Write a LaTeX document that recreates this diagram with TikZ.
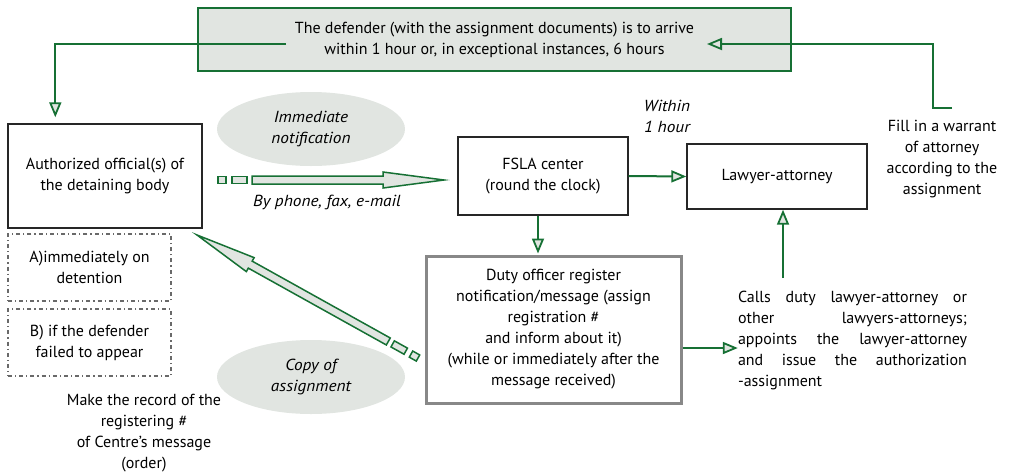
\documentclass[tikz,border=0pt]{standalone}
\usepackage{fontspec}
\setmainfont{PT Sans}[ItalicFeatures={FakeStretch=1.08}]
\usetikzlibrary{arrows.meta,calc,shapes.geometric}
\definecolor{dkgreen}{RGB}{22,112,52}
\definecolor{softgray}{RGB}{225,229,225}
\definecolor{boxgray}{RGB}{136,136,136}
\definecolor{dashgray}{RGB}{105,105,105}

\tikzset{
  % wide outlined arrow led by two small squares
  hollow arrow/.pic={
    \pgfmathsetmacro\arlen{#1}
    \draw[dkgreen,line width=1.5pt,fill=softgray]
      (0,-3.5) rectangle (8,3.5) (14,-3.5) rectangle (29,3.5);
    \draw[dkgreen,line width=1.5pt,fill=softgray,line join=miter]
      (34,-4) -- (\arlen-61,-4) -- (\arlen-61,-8) -- (\arlen,0)
      -- (\arlen-61,8) -- (\arlen-61,4) -- (34,4) -- cycle;
  }
}
% one fully justified line of a fixed width
\newcommand\spreadline[1]{\makebox[229pt][l]{#1}}

\begin{document}
\begin{tikzpicture}[x=1pt,y=-1pt,
  font=\fontsize{16}{21}\selectfont,
  plainbox/.style={draw=black!85,line width=1.4pt,fill=white,align=center,inner sep=0pt},
  topbox/.style={draw=dkgreen,line width=1.8pt,fill=softgray,align=center,inner sep=0pt},
  dutybox/.style={draw=boxgray,line width=3pt,fill=white,align=center,inner sep=0pt},
  condbox/.style={draw=dashgray,line width=1.2pt,dash pattern=on 4pt off 3pt on 1.2pt off 3pt,align=center,inner sep=0pt,minimum width=163pt,minimum height=67pt},
  bubble/.style={ellipse,fill=softgray,inner sep=0pt,minimum width=188pt,minimum height=74pt,align=center,font=\fontsize{16}{21}\selectfont\itshape},
  note/.style={align=center,inner sep=0pt},
  flow/.style={draw=dkgreen,line width=2pt,-{Triangle[length=15pt,width=12pt,fill=softgray,line width=1.8pt]}},
]
\useasboundingbox (0,0) rectangle (1010,475);

% boxes
\node[topbox,minimum width=593pt,minimum height=63pt] (arrive) at (494.5,39.5)
  {The defender (with the assignment documents) is to arrive\\within 1 hour or, in exceptional instances, 6 hours};
\node[plainbox,minimum width=194pt,minimum height=104pt] (official) at (105,176)
  {Authorized official(s) of\\the detaining body};
\node[plainbox,minimum width=170pt,minimum height=78pt] (fsla) at (543,176)
  {FSLA center\\(round the clock)};
\node[plainbox,minimum width=180pt,minimum height=65pt] (lawyer) at (777,176.5)
  {Lawyer-attorney};
\node[dutybox,minimum width=255pt,minimum height=147pt] (duty) at (553.5,329.5)
  {Duty officer register\\notification/message (assign\\registration \#\hspace*{38pt}\\and inform about it)\hspace*{36pt}\\(while or immediately after the\\message received)};
\node[condbox] (condA) at (89.5,267.5) {A)immediately on\\detention};
\node[condbox] (condB) at (89.5,342.5) {B) if the defender\\failed to appear};

% ellipses
\node[bubble] (immediate) at (311,129) {Immediate\\notification};
\node[bubble] (copy) at (311,377) {Copy of\\assignment};

% free texts
\node[note,font=\fontsize{16}{21}\selectfont\itshape] (within) at (667,116) {Within\\1 hour};
\node[note,font=\fontsize{16}{21}\selectfont\itshape] (byphone) at (327,202) {By phone, fax, e-mail};
\node[note] (warrant) at (942,159.5) {Fill in a warrant\\of attorney\\according to the\\assignment};
\node[note] (record) at (144,433) {Make the record of the\\registering \#\\of Centre’s message\\(order)};
\node[note,align=left,text width=229pt] (calls) at (852.5,340)
  {\spreadline{Calls\hfill duty\hfill lawyer-attorney\hfill or}\\
   \spreadline{other\hfill lawyers-attorneys;}\\
   \spreadline{appoints\hfill the\hfill lawyer-attorney}\\
   \spreadline{and\hfill issue\hfill the\hfill authorization}\\
   -assignment};

% connector end points
\coordinate (arriveOut) at (286,44);
\coordinate (arriveIn) at (707,44);
\coordinate (warrantHook) at (952,108);
\coordinate (callsTop) at (783,278);
\coordinate (notifStart) at (218,180);
\coordinate (copyStart) at (418,358);

% connectors
\draw[flow,shorten >=6pt] (arriveOut) -| ([xshift=48pt]official.north west);
\draw[flow] (warrantHook) -- ++(-19,0) |- (arriveIn);
\draw[flow] (fsla.east) -- (lawyer.west);
\draw[flow,shorten >=1pt] ([xshift=-5pt]fsla.south) -- ([xshift=-5pt]fsla.south |- duty.north);
\draw[flow] (duty.east |- 0,348) -- (calls.west |- 0,348);
\draw[flow] (callsTop) -- (callsTop |- lawyer.south);

% wide notification arrows
\pic at (notifStart) {hollow arrow=226};
\pic[rotate=150.9] at (copyStart) {hollow arrow=253};
\end{tikzpicture}
\end{document}
